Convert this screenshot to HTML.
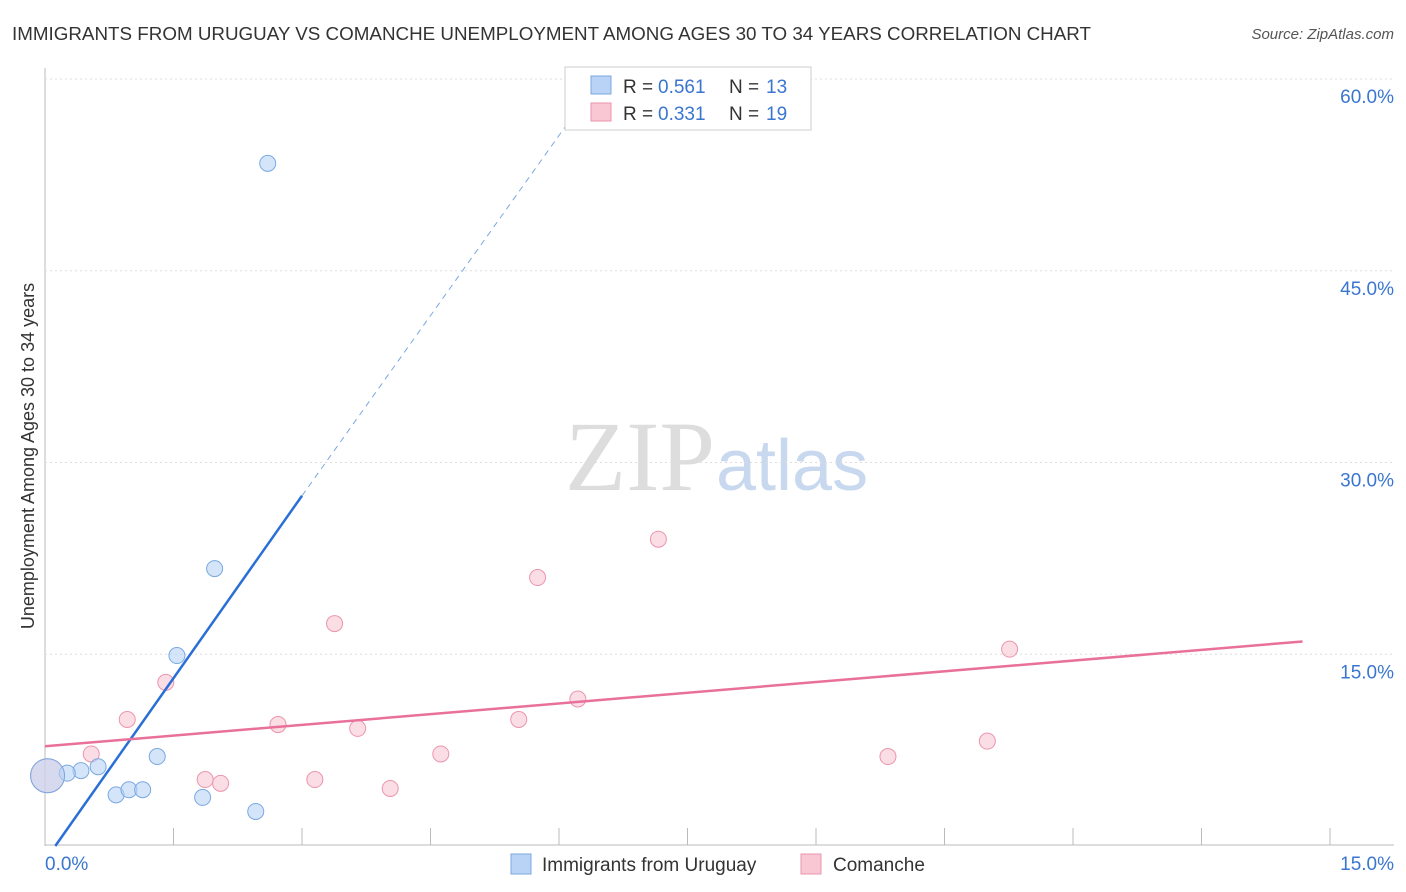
<!DOCTYPE html>
<html><head><meta charset="utf-8">
<style>
body{margin:0;background:#fff;font-family:"Liberation Sans",sans-serif;}
#wrap{position:relative;width:1406px;height:892px;overflow:hidden;}
</style></head>
<body>
<div id="wrap">
<svg id="svg" width="1406" height="892" xmlns="http://www.w3.org/2000/svg">
<text x="12" y="40" font-size="18" fill="#333" textLength="1079" lengthAdjust="spacingAndGlyphs">IMMIGRANTS FROM URUGUAY VS COMANCHE UNEMPLOYMENT AMONG AGES 30 TO 34 YEARS CORRELATION CHART</text>
<text x="1394" y="39" font-size="15" fill="#555" font-style="italic" text-anchor="end">Source: ZipAtlas.com</text>
<text x="715" y="490" font-size="100" fill="#ddd" text-anchor="end" font-family="Liberation Serif">ZIP</text>
<text x="716" y="490" font-size="72" fill="#c8d8ee">atlas</text>
<g id="grid"></g>
<g id="marks"></g>
<text transform="translate(34,456) rotate(-90)" font-size="18" fill="#333" text-anchor="middle">Unemployment Among Ages 30 to 34 years</text>
<g>
<rect x="565" y="67" width="246" height="63" fill="#fff" stroke="#ccc"/>
<rect x="591" y="76" width="20" height="18" fill="#b8d3f5" stroke="#7aa8e0"/>
<text x="623" y="93" font-size="19" fill="#333">R = </text>
<text x="658" y="93" font-size="19" fill="#3a76d0">0.561</text>
<text x="729" y="93" font-size="19" fill="#333">N = </text>
<text x="766" y="93" font-size="19" fill="#3a76d0">13</text>
<rect x="591" y="103" width="20" height="18" fill="#f9c6d4" stroke="#eb95ae"/>
<text x="623" y="120" font-size="19" fill="#333">R = </text>
<text x="658" y="120" font-size="19" fill="#3a76d0">0.331</text>
<text x="729" y="120" font-size="19" fill="#333">N = </text>
<text x="766" y="120" font-size="19" fill="#3a76d0">19</text>
</g>
<g>
<rect x="511" y="854" width="20" height="20" fill="#b8d3f5" stroke="#7aa8e0"/>
<text x="542" y="871" font-size="19" fill="#333">Immigrants from Uruguay</text>
<rect x="801" y="854" width="20" height="20" fill="#f9c6d4" stroke="#eb95ae"/>
<text x="833" y="871" font-size="19" fill="#333">Comanche</text>
</g>
</svg>
</div>
<script>
const blueX=[2.60,1.98,1.54,1.31,0.62,0.42,0.26,0.03,0.83,0.98,1.14,1.84,2.46];
const blueY=[53.4,21.7,14.9,7.0,6.2,5.9,5.7,5.5,4.0,4.4,4.4,3.8,2.7];
const pinkX=[0.54,0.96,1.41,1.87,2.05,2.72,3.15,3.38,3.65,4.03,4.62,5.53,5.75,6.22,7.16,9.84,11.0,11.26,0.03];
const pinkY=[7.2,9.9,12.8,5.2,4.9,9.5,5.2,17.4,9.2,4.5,7.2,9.9,21.0,11.5,24.0,7.0,8.2,15.4,5.5];
const blueTrend=[[0.12,0],[3.0,27.4],[6.47,60]];
const pinkTrend=[[0,7.8],[14.68,16.0]];
const yTicks=[15,30,45,60];
const xTickLabels=["0.0%","15.0%"];
const NS="http://www.w3.org/2000/svg";
const X=v=>45+v*(1285/15), Y=v=>846-v*(767/60);
const grid=document.getElementById('grid'), marks=document.getElementById('marks');
function mk(tag,at,parent){const e=document.createElementNS(NS,tag);for(const k in at)e.setAttribute(k,at[k]);parent.appendChild(e);return e;}
let ax=mk('line',{x1:45,y1:68,x2:45,y2:846,stroke:'#bbb'},grid);


let bx=mk('line',{x1:45,y1:845,x2:1394,y2:845,stroke:'#bbb'},grid);


yTicks.forEach(t=>{
 let g=mk('line',{x1:45,x2:1394,y1:Y(t),y2:Y(t),stroke:'#ddd','stroke-dasharray':'2,3'},grid);
 
 
 let tx=mk('text',{x:1394,y:Y(t)+24,'font-size':19,fill:'#3a76d0','text-anchor':'end'},grid);
 tx.textContent=t.toFixed(1)+'%';
 
 
});
for(let i=1;i<=10;i++){
 let tk=mk('line',{x1:X(i*1.5),x2:X(i*1.5),y1:828,y2:845,stroke:'#bbb'},grid);
 
 
}
[[0,45,'start'],[1,1394,'end']].forEach(([i,x,a])=>{
 let tx=mk('text',{x:x,y:870,'font-size':19,fill:'#3a76d0','text-anchor':a},grid);
 tx.textContent=xTickLabels[i];
 
 
});
function pts(xs,ys,fill,stroke,name){
 xs.forEach((v,i)=>{
  const big=(v<0.1);
  let c=mk('circle',{cx:X(v),cy:Y(ys[i]),r:big?17:8,fill:fill,'fill-opacity':big?0.55:0.6,stroke:stroke,'stroke-width':1},marks);
  
  
 });
}
pts(pinkX,pinkY,'#f9c6d4','#eb95ae','comanche-point');
pts(blueX,blueY,'#b8d3f5','#7aa8e0','uruguay-point');
let l1=mk('line',{x1:X(blueTrend[0][0]),y1:Y(blueTrend[0][1]),x2:X(blueTrend[1][0]),y2:Y(blueTrend[1][1]),stroke:'#2a6fd6','stroke-width':2.5},marks);


let l2=mk('line',{x1:X(blueTrend[1][0]),y1:Y(blueTrend[1][1]),x2:X(blueTrend[2][0]),y2:Y(blueTrend[2][1]),stroke:'#7aa8e0','stroke-width':1,'stroke-dasharray':'6,5'},marks);


let l3=mk('line',{x1:X(pinkTrend[0][0]),y1:Y(pinkTrend[0][1]),x2:X(pinkTrend[1][0]),y2:Y(pinkTrend[1][1]),stroke:'#e8709a','stroke-width':2.5},marks);


</script>
</body></html>
